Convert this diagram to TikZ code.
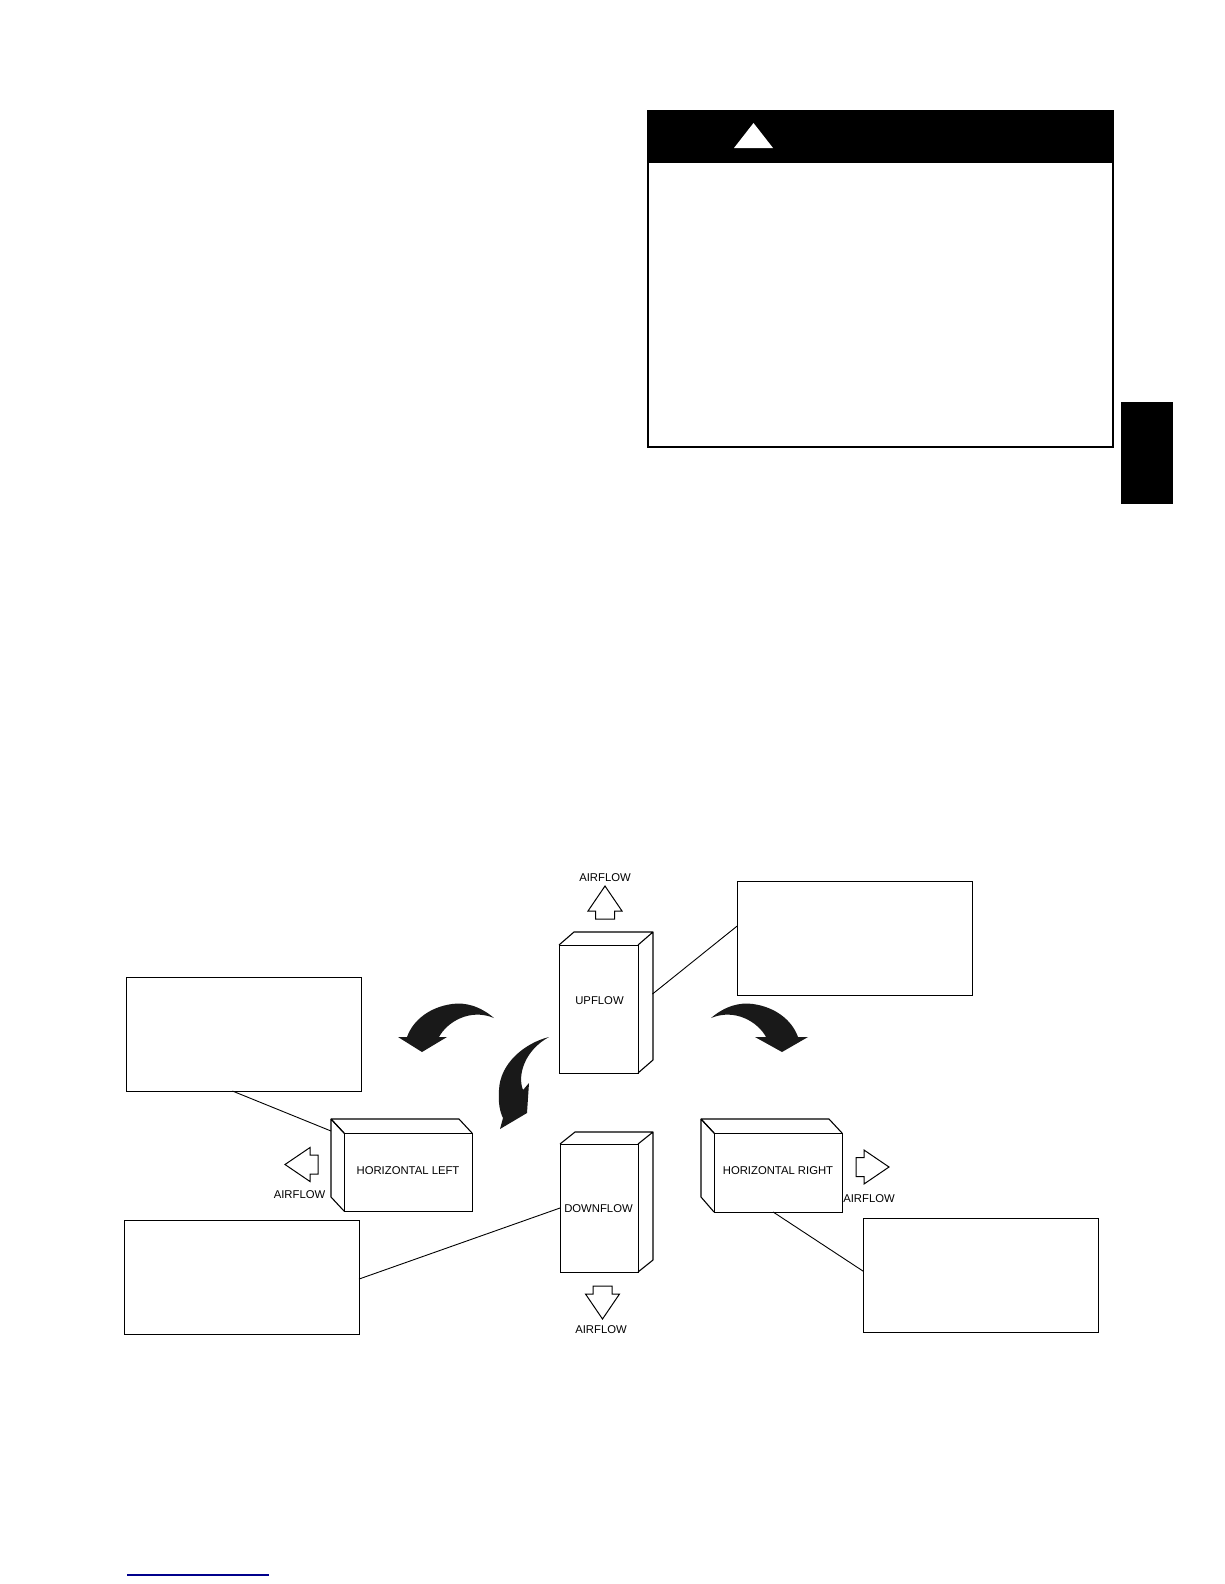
\documentclass[tikz,border=0pt]{standalone}
\usepackage{fontspec}
\setmainfont{Liberation Sans}
\definecolor{rulenavy}{RGB}{0,0,140}
\tikzset{
  calloutbox/.style={draw,line width=0.9pt,inner sep=0pt,outer sep=0pt,minimum width=235pt,minimum height=114pt},
  unitface/.style={draw,line width=1pt,inner sep=0pt,outer sep=0pt},
  unitline/.style={line width=1.1pt,line join=round},
  flowarrow/.style={draw,line width=1pt,line join=miter},
  flowlabel/.style={inner sep=0pt,font=\fontsize{11.3}{13}\selectfont},
  leader/.style={line width=0.9pt},
  turnarrow/.style={fill=black!90}
}
\begin{document}
\begin{tikzpicture}[x=1pt,y=-1pt]
\useasboundingbox (0,0) rectangle (1224,1584);

% warning panel and page tab
\node[draw,line width=2pt,inner sep=0pt,minimum width=465pt,minimum height=336pt] (warnBox) at (880.5,279) {};
\node[fill=black,inner sep=0pt,minimum width=467pt,minimum height=53pt] (warnHead) at (880.5,136.5) {};
\fill[white] (753.5,123) -- (773,148) -- (734,148) -- cycle;
\node[fill=black,inner sep=0pt,minimum width=52pt,minimum height=102pt] (sideTab) at (1147,453) {};

% callouts
\foreach \name/\px/\py in {callUp/854.5/938.5,callHL/243.5/1034,callDown/241.5/1277,callHR/981/1275.5}
{
  \node[calloutbox] (\name) at (\px,\py) {};
}

% units
\node[unitface,minimum width=79pt,minimum height=128pt] (upFace) at (598.5,1009) {};
\draw[unitline] (upFace.north west) -- ++(15,-13) -- ++(79,0) -- (upFace.north east) ++(15,-13) -- ++(0,128) -- (upFace.south east);
\node[unitface,minimum width=78pt,minimum height=128pt] (downFace) at (599,1208) {};
\draw[unitline] (downFace.north west) -- ++(15,-12) -- ++(78,0) -- (downFace.north east) ++(15,-12) -- ++(0,128) -- (downFace.south east);
\node[unitface,minimum width=128pt,minimum height=78pt] (leftFace) at (408,1172) {};
\draw[unitline] (leftFace.north east) -- ++(-13,-14) -- ++(-128,0) -- (leftFace.north west) ++(-13,-14) -- ++(0,78) -- (leftFace.south west);
\node[unitface,minimum width=128pt,minimum height=79pt] (rightFace) at (778,1172.5) {};
\draw[unitline] (rightFace.north east) -- ++(-13,-14) -- ++(-128,0) -- (rightFace.north west) ++(-13,-14) -- ++(0,78) -- (rightFace.south west);
\draw[unitline] (rightFace.north west) -- ++(-13,-14);
\draw[unitline] (leftFace.north west) -- ++(-13,-14);

\node[flowlabel] (upText) at (599.5,1001) {UPFLOW};
\node[flowlabel] (downText) at (598.5,1209) {DOWNFLOW};
\node[flowlabel] (leftText) at (408,1171) {HORIZONTAL LEFT};
\node[flowlabel] (rightText) at (778,1171) {HORIZONTAL RIGHT};

% airflow arrows
\foreach \px/\py/\rot in {605/886/0,285/1164.5/90,602.5/1319/180,889/1167/-90}
{
  \draw[flowarrow,shift={(\px,\py)},rotate=\rot] (0,0) -- (17,25) -- (9.5,25) -- (9.5,33) -- (-9.5,33) -- (-9.5,25) -- (-17,25) -- cycle;
}
\foreach \name/\px/\py in {airUp/605/877.5,airLeft/299.5/1195,airDown/601/1330,airRight/869/1199}
{
  \node[flowlabel] (\name) at (\px,\py) {AIRFLOW};
}

% leaders
\coordinate (upSide) at (652.5,994);
\coordinate (leftBack) at (331,1131);
\draw[leader] (callUp.174) -- (upSide);
\draw[leader] (callHL.259) -- (leftBack);
\draw[leader] (callDown.359) -- (downFace.west);
\draw[leader] (callHR.178) -- (rightFace.263);

% turn arrows
\fill[turnarrow] (494,1018) .. controls (480,1006) and (465,1002) .. (452,1004) .. controls (430,1007) and (413,1020) .. (407,1037) -- (398,1037) -- (422,1052) -- (447,1037) -- (439,1037) .. controls (447,1022) and (470,1008) .. (494,1018) -- cycle;
\fill[turnarrow] (711,1018) .. controls (725,1006) and (740,1002) .. (753,1004) .. controls (775,1007) and (792,1020) .. (798,1037) -- (808,1037) -- (782,1052) -- (755,1037) -- (766,1037) .. controls (758,1022) and (735,1008) .. (711,1018) -- cycle;
\fill[turnarrow] (549,1037) .. controls (525,1043) and (500,1063) .. (499,1090) .. controls (498,1103) and (500,1112) .. (503,1118) -- (500,1129) -- (527,1113) -- (529,1083) -- (523,1090) .. controls (517,1075) and (525,1050) .. (549,1037) -- cycle;

\draw[rulenavy,line width=1.2pt] (127,1575) -- (269,1575);
\end{tikzpicture}
\end{document}
